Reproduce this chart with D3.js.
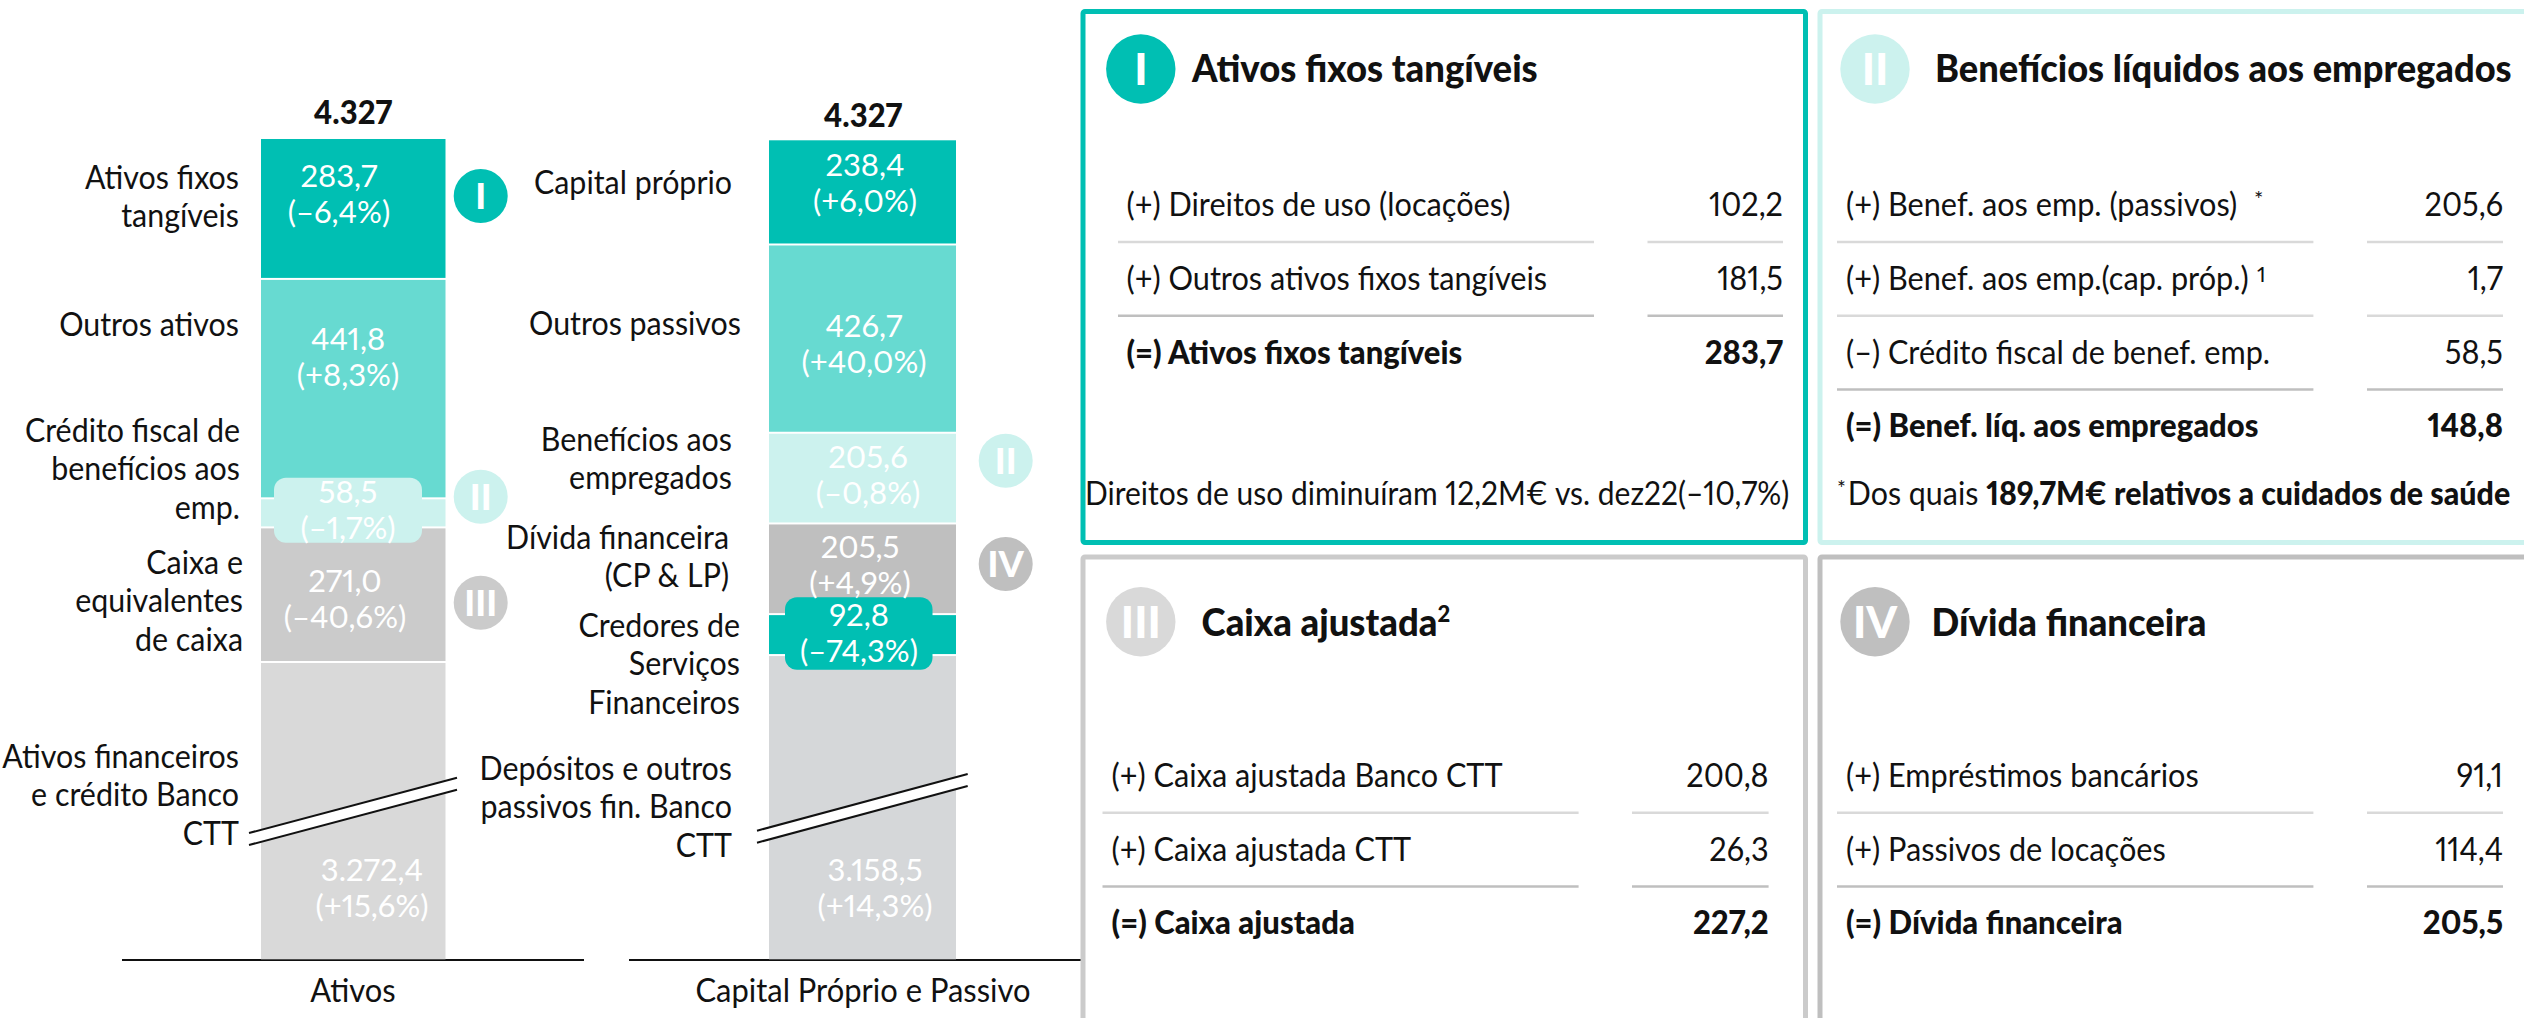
<!DOCTYPE html>
<html>
<head>
<meta charset="utf-8">
<script src="https://cdn.jsdelivr.net/npm/d3@7"></script>
<style>
  html, body { margin: 0; padding: 0; background: #fff; overflow: hidden; }
  text { font-family: Lato, "Noto Sans", sans-serif; fill: #111; font-variant-numeric: proportional-nums; }
</style>
</head>
<body>
<script>
// values
var totalLabel = "4.327";
var assetValues = [283.7, 441.8, 58.5, 271.0, 3272.4];
var assetChanges = ["(–6,4%)", "(+8,3%)", "(–1,7%)", "(–40,6%)", "(+15,6%)"];
var liabValues = [238.4, 426.7, 205.6, 205.5, 92.8, 3158.5];
var liabChanges = ["(+6,0%)", "(+40,0%)", "(–0,8%)", "(+4,9%)", "(–74,3%)", "(+14,3%)"];
var assetNames = [["Ativos fixos", "tangíveis"], ["Outros ativos"], ["Crédito fiscal de", "benefícios aos", "emp."],
                  ["Caixa e", "equivalentes", "de caixa"], ["Ativos financeiros", "e crédito Banco", "CTT"]];
var liabNames = [["Capital próprio"], ["Outros passivos"], ["Benefícios aos", "empregados"], ["Dívida financeira", "(CP & LP)"],
                 ["Credores de", "Serviços", "Financeiros"], ["Depósitos e outros", "passivos fin. Banco", "CTT"]];
var barNames = ["Ativos", "Capital Próprio e Passivo"];

var panelTitles = ["Ativos fixos tangíveis", "Benefícios líquidos aos empregados", "Caixa ajustada", "Dívida financeira"];
var panelNumerals = ["I", "II", "III", "IV"];
var rows1 = [["(+) Direitos de uso (locações)", "102,2"], ["(+) Outros ativos fixos tangíveis", "181,5"], ["(=) Ativos fixos tangíveis", "283,7"]];
var rows2 = [["(+) Benef. aos emp. (passivos)", "205,6"], ["(+) Benef. aos emp.(cap. próp.)", "1,7"], ["(–) Crédito fiscal de benef. emp.", "58,5"], ["(=) Benef. líq. aos empregados", "148,8"]];
var rows3 = [["(+) Caixa ajustada Banco CTT", "200,8"], ["(+) Caixa ajustada CTT", "26,3"], ["(=) Caixa ajustada", "227,2"]];
var rows4 = [["(+) Empréstimos bancários", "91,1"], ["(+) Passivos de locações", "114,4"], ["(=) Dívida financeira", "205,5"]];

// layout, kept apart from the values
var teal = "#00bfb3", mid = "#67dad1", pale = "#ccf2ee", gray1 = "#cbcbcb", gray2 = "#d9d9d9", gray3 = "#bfbfbf", gray4 = "#d5d7d9";
var assetColors = [teal, mid, pale, gray1, gray2];
var liabColors = [teal, mid, pale, gray3, teal, gray4];
var assetValuePos = [[339, 187], [348, 350], [348, 503], [345, 592], [372, 881]];
var liabValuePos = [[865, 176], [864, 337], [868, 468], [860, 558], [859, 626], [875, 881]];
var assetNamePos = [[239, 189], [239, 336], [240, 442], [243, 574], [239, 768]];
var liabNamePos = [[732, 194], [741, 335], [732, 451], [729, 549], [740, 637], [732, 780]];

var svg = d3.select("body").append("svg").attr("width", 2524).attr("height", 1018);

function txt(parent, str, x, y, size, opt) {
  opt = opt || {};
  return parent.append("text")
    .attr("transform", "translate(" + x + "," + y + ") scale(" + (opt.sx || 1) + ",1)")
    .attr("text-anchor", opt.anchor || "start")
    .style("font-size", size + "px")
    .style("font-weight", opt.weight || 400)
    .style("fill", opt.fill || "#111")
    .text(str);
}

// one stacked bar: the scale jumps over the broken part of the big segment
function stackedBar(values, colors, x0, x1, yScale) {
  var g = svg.append("g");
  var ends = Array.from(d3.cumsum(values));
  var last = values.length - 1;
  g.selectAll("rect").data(values).enter().append("rect")
    .attr("x", x0)
    .attr("width", x1 - x0)
    .attr("y", function(d, i) { return yScale(i ? ends[i - 1] : 0); })
    .attr("height", function(d, i) { return yScale(ends[i]) - yScale(i ? ends[i - 1] : 0) - (i < last ? 2 : 0); })
    .attr("fill", function(d, i) { return colors[i]; });
  return g;
}

function valueLabels(g, values, changes, pos) {
  values.forEach(function(v, i) {
    var s = d3.format(",.1f")(v).replace(".", "#").replace(",", ".").replace("#", ",");
    txt(g, s, pos[i][0], pos[i][1], 31, {anchor: "middle", fill: "#fff"});
    txt(g, changes[i], pos[i][0], pos[i][1] + 36, 31, {anchor: "middle", fill: "#fff"});
  });
}

function nameLabels(g, names, pos) {
  names.forEach(function(lines, i) {
    lines.forEach(function(l, j) {
      txt(g, l, pos[i][0], pos[i][1] + j * 38.4, 32, {anchor: "end", sx: 0.95});
    });
  });
}

function breakMark(g, x0, x1, y0, y1) {
  var gap = 12;
  g.append("path").attr("fill", "#fff")
    .attr("d", d3.line()([[x0, y0], [x1, y1], [x1, y1 + gap], [x0, y0 + gap]]));
  [0, gap].forEach(function(o) {
    g.append("line").attr("x1", x0).attr("y1", y0 + o).attr("x2", x1).attr("y2", y1 + o)
      .attr("stroke", "#111").attr("stroke-width", 2);
  });
}

function badge(g, x, y, w, h, color) {
  g.append("rect").attr("x", x).attr("y", y).attr("width", w).attr("height", h)
    .attr("rx", 12).attr("fill", color);
}

function numeral(parent, n, cx, cy, r, color, size) {
  parent.append("circle").attr("cx", cx).attr("cy", cy).attr("r", r).attr("fill", color);
  txt(parent, n, cx, cy + size * 0.36, size, {anchor: "middle", fill: "#fff", weight: 900});
}

var yAssets = d3.scaleLinear().domain([0, 1350, 4030, d3.sum(assetValues)]).range([139, 809.5, 811.5, 959.3]);
var yLiabs = d3.scaleLinear().domain([0, 1500, 4000, d3.sum(liabValues)]).range([140.3, 802.1, 814.8, 959.3]);

// axis lines first, panels go over them later
svg.append("line").attr("x1", 122).attr("x2", 584).attr("y1", 960).attr("y2", 960).attr("stroke", "#111").attr("stroke-width", 2);
svg.append("line").attr("x1", 629).attr("x2", 1096).attr("y1", 960).attr("y2", 960).attr("stroke", "#111").attr("stroke-width", 2);

var gA = stackedBar(assetValues, assetColors, 261, 445.5, yAssets);
badge(gA, 274, 477.7, 148, 65, pale);
valueLabels(gA, assetValues, assetChanges, assetValuePos);
nameLabels(gA, assetNames, assetNamePos);
breakMark(gA, 249, 457, 833, 777.7);

var gL = stackedBar(liabValues, liabColors, 769, 956, yLiabs);
badge(gL, 785, 597.3, 147.5, 72.4, teal);
valueLabels(gL, liabValues, liabChanges, liabValuePos);
nameLabels(gL, liabNames, liabNamePos);
breakMark(gL, 757, 967.7, 830.7, 774);

txt(svg, totalLabel, 353, 124, 32, {anchor: "middle", weight: 900, sx: 0.97});
txt(svg, totalLabel, 863, 126.5, 32, {anchor: "middle", weight: 900, sx: 0.97});
txt(svg, barNames[0], 353, 1001.7, 32, {anchor: "middle", sx: 0.966});
txt(svg, barNames[1], 863, 1001.7, 32, {anchor: "middle", sx: 0.966});

numeral(svg, "I", 480.7, 196, 27, teal, 36);
numeral(svg, "II", 480.7, 496.7, 27, pale, 36);
numeral(svg, "III", 480.7, 602.7, 27, gray1, 36);
numeral(svg, "II", 1005.7, 460.7, 27, pale, 36);
numeral(svg, "IV", 1005.7, 564, 27, gray3, 36);

// panels on the right
function panel(x, y, w, h, color) {
  svg.append("rect").attr("x", x).attr("y", y).attr("width", w).attr("height", h)
    .attr("rx", 2).attr("fill", "#fff").attr("stroke", color).attr("stroke-width", 5);
  return svg.append("g");
}

function table(g, rows, labelX, valueX, lines, y0) {
  var rowY = d3.scaleLinear().domain([0, 1]).range([y0, y0 + 73.8]);
  rows.forEach(function(r, i) {
    var bold = i == rows.length - 1;
    txt(g, r[0], labelX, rowY(i), 32, {weight: bold ? 900 : 400, sx: bold ? 0.97 : 0.958});
    txt(g, r[1], valueX, rowY(i), 32, {anchor: "end", weight: bold ? 900 : 400, sx: bold ? 0.97 : 0.958});
    if (!bold) {
      lines.forEach(function(l) {
        g.append("line").attr("x1", l[0]).attr("x2", l[1])
          .attr("y1", rowY(i) + 26).attr("y2", rowY(i) + 26)
          .attr("stroke", i == rows.length - 2 ? gray3 : gray2).attr("stroke-width", 2.5);
      });
    }
  });
}

var p1 = panel(1083, 11.5, 722.5, 531, teal);
numeral(p1, panelNumerals[0], 1140.8, 69, 34.7, teal, 44);
txt(p1, panelTitles[0], 1192, 82, 38, {weight: 900, sx: 0.96});
table(p1, rows1, 1126.5, 1783, [[1118, 1594], [1647.5, 1783]], 216);
txt(p1, "Direitos de uso diminuíram 12,2M€ vs. dez22(–10,7%)", 1085, 505, 32, {sx: 0.937});

var p2 = panel(1820, 11.5, 760, 531, pale);
numeral(p2, panelNumerals[1], 1875, 69, 34.7, pale, 44);
txt(p2, panelTitles[1], 1935, 82, 38, {weight: 900, sx: 0.955});
table(p2, rows2, 1846, 2503, [[1837, 2313.4], [2367, 2503]], 216);
txt(p2, "*", 2254, 207, 22);
txt(p2, "1", 2257, 282, 22);
var foot = txt(p2, "", 1837, 505, 32, {sx: 0.95});
foot.append("tspan").style("font-size", "22px").attr("dy", -9).text("*");
foot.append("tspan").attr("dy", 9).attr("dx", 2).text("Dos quais ");
foot.append("tspan").style("font-weight", 900).text("189,7M€ relativos a cuidados de saúde");

var p3 = panel(1083, 557, 722.5, 520, gray1);
numeral(p3, panelNumerals[2], 1140.8, 621.7, 34.7, gray2, 44);
var t3 = txt(p3, panelTitles[2], 1201.6, 635.7, 38, {weight: 900, sx: 0.96});
t3.append("tspan").style("font-size", "23px").attr("dy", -14).text("2");
table(p3, rows3, 1111.6, 1768.6, [[1102.5, 1578.6], [1632, 1768.6]], 786.7);

var p4 = panel(1820, 557, 760, 520, gray3);
numeral(p4, panelNumerals[3], 1875, 621.7, 34.7, gray3, 44);
txt(p4, panelTitles[3], 1931.6, 635.7, 38, {weight: 900, sx: 0.96});
table(p4, rows4, 1846, 2503, [[1837, 2313.4], [2367, 2503]], 786.7);
</script>
</body>
</html>
